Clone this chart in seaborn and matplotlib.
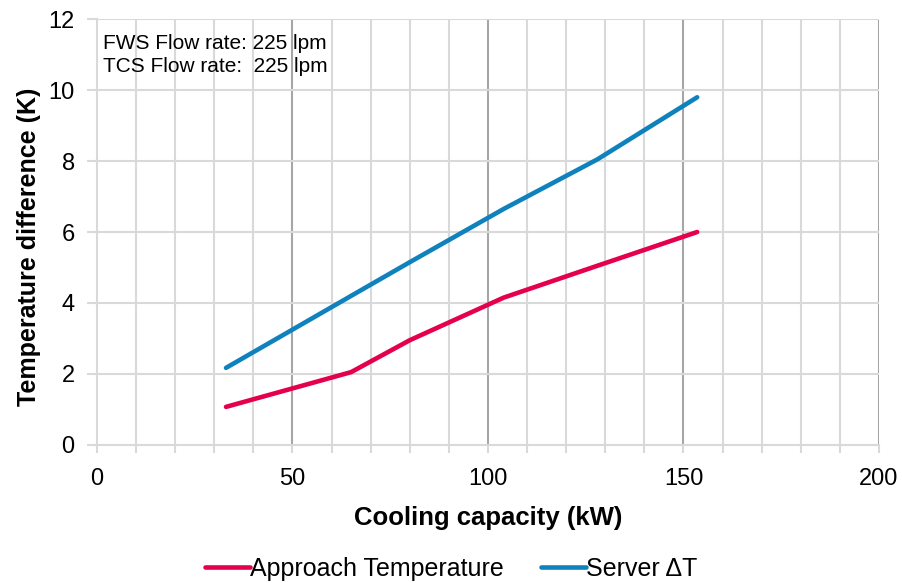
import numpy as np
import pandas as pd
import matplotlib.pyplot as plt
from matplotlib.ticker import MultipleLocator
import seaborn as sns

# values
capacity = [33, 65, 80, 104, 128, 153.5]
approach_temp = [1.07, 2.05, 2.95, 4.15, 5.05, 6.0]
server_dt = [2.17, 4.2, 5.15, 6.65, 8.05, 9.8]
series_names = ["Approach Temperature", "Server \u0394T"]
series_colors = ["#E5004B", "#0F82BE"]

df = pd.concat([
    pd.DataFrame({"capacity": capacity, "dT": approach_temp, "series": series_names[0]}),
    pd.DataFrame({"capacity": capacity, "dT": server_dt, "series": series_names[1]}),
])

sns.set_style("white")
plt.rcParams["font.family"] = ["Liberation Sans", "DejaVu Sans"]
plt.rcParams["text.color"] = "black"
plt.rcParams["axes.labelcolor"] = "black"
plt.rcParams["xtick.labelcolor"] = "black"
plt.rcParams["ytick.labelcolor"] = "black"

fig, ax = plt.subplots(figsize=(9.02, 5.83), dpi=100)
fig.subplots_adjust(left=0.1075, right=0.9745, top=0.967, bottom=0.237)

light = "#D9D9D9"
dark = "#A6A6A6"

ax.set_xlim(0, 200)
ax.set_ylim(0, 12)
ax.xaxis.set_major_locator(MultipleLocator(50))
ax.xaxis.set_minor_locator(MultipleLocator(10))
ax.yaxis.set_major_locator(MultipleLocator(2))

# grid: minor vertical every 10, darker at 50s, horizontal at every 2
for xv in np.arange(10, 201, 10):
    col = dark if xv % 50 == 0 else light
    ax.axvline(xv, color=col, lw=1.5, zorder=0)
for yv in np.arange(2, 13, 2):
    ax.axhline(yv, color=light, lw=1.5, zorder=0)

sns.lineplot(data=df, x="capacity", y="dT", hue="series", palette=series_colors,
             linewidth=3.3, ax=ax, legend=False, zorder=3)
for ln in ax.get_lines()[-2:]:
    ln.set_solid_capstyle("round")

for side in ["top", "right"]:
    ax.spines[side].set_visible(False)
for side in ["left", "bottom"]:
    ax.spines[side].set_color(light)
    ax.spines[side].set_linewidth(1.5)

ax.tick_params(axis="x", which="both", length=6, width=1.5, color=light,
               labelsize=17, pad=11, direction="out", bottom=True)
ax.tick_params(axis="y", which="major", length=7, width=1.5, color=light,
               labelsize=17, pad=9, direction="out", left=True)
ax.tick_params(axis="x", which="minor", labelbottom=False)

ax.set_xlabel("Cooling capacity (kW)", fontsize=18.5, fontweight="bold", labelpad=11)
ax.set_ylabel("Temperature difference (K)", fontsize=18, fontweight="bold")
ax.yaxis.set_label_coords(-0.072, 0.465)

ax.text(0.008, 0.965, "FWS Flow rate: 225 lpm\nTCS Flow rate:  225 lpm",
        transform=ax.transAxes, ha="left", va="top", fontsize=15,
        linespacing=1.25, zorder=4)

handles = [plt.Line2D([], [], color=c, lw=3.3) for c in series_colors]
fig.legend(handles, series_names, loc="lower center", bbox_to_anchor=(0.5, -0.035),
           ncol=2, frameon=False, fontsize=18, handlelength=1.8,
           handletextpad=0.0, columnspacing=1.5)

fig.savefig("out.png", dpi=100)
